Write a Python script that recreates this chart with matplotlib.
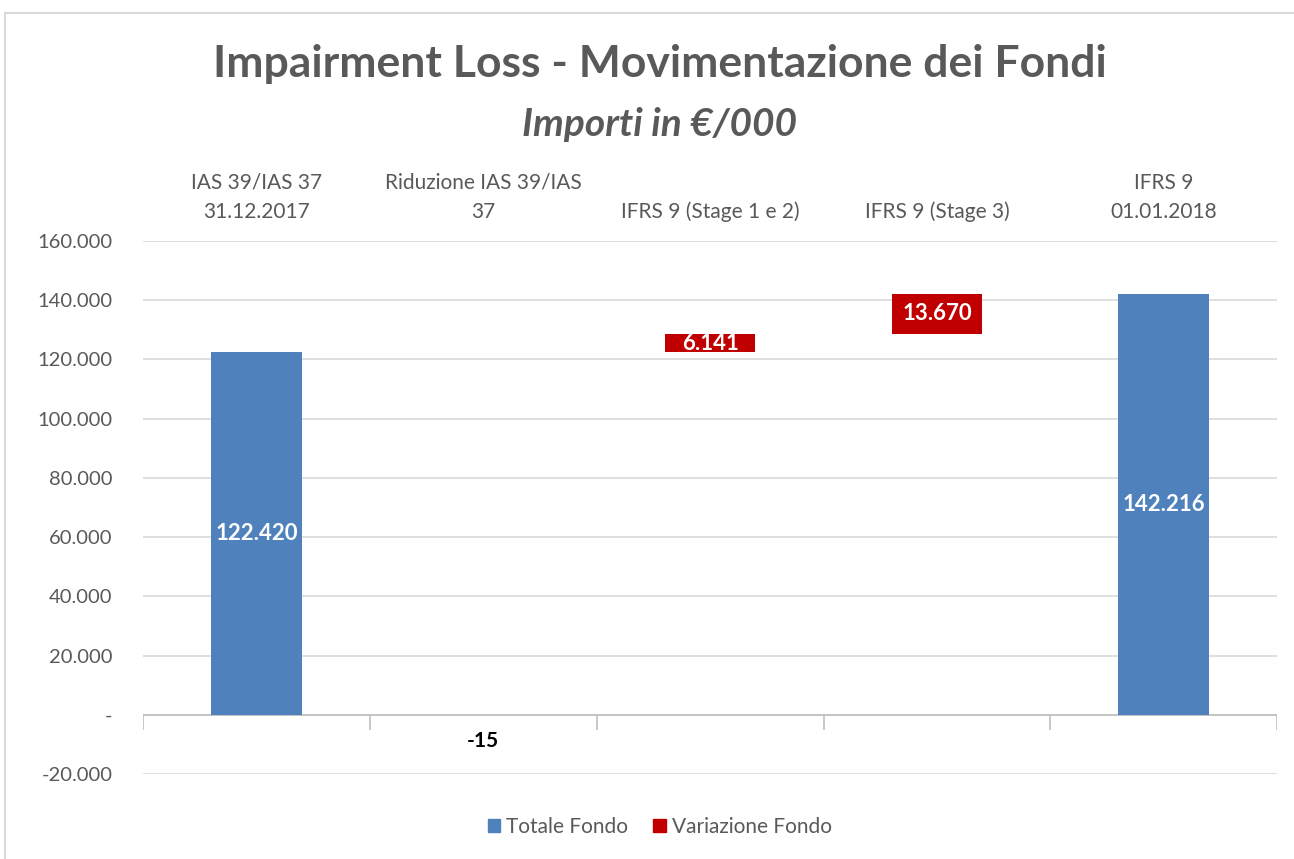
import numpy as np
import matplotlib.pyplot as plt
from matplotlib.patches import Rectangle, Patch
from matplotlib.ticker import FuncFormatter

plt.rcParams['font.family'] = ['Lato', 'DejaVu Sans']

# dati
categorie = ["IAS 39/IAS 37\n31.12.2017", "Riduzione IAS 39/IAS\n37",
             "IFRS 9 (Stage 1 e 2)", "IFRS 9 (Stage 3)", "IFRS 9\n01.01.2018"]
valori = [122420, -15, 6141, 13670, 142216]
totale = [True, False, False, False, True]
etichette = ["122.420", "-15", "6.141", "13.670", "142.216"]

BLU = "#4F81BD"
ROSSO = "#C00000"
GRIGIO = "#595959"

fig = plt.figure(figsize=(12.94, 8.59), dpi=100)
ax = fig.add_axes([0.1105, 0.099, 0.8765, 0.6205])

# cornice esterna
fig.patches.append(Rectangle((0.004, -0.05), 1.1, 1.035, transform=fig.transFigure,
                             fill=False, edgecolor="#D9D9D9", lw=1.5))

x = np.arange(len(valori))
cum = 0
for i, v in enumerate(valori):
    if totale[i]:
        bottom, h, col = 0, v, BLU
        cum = v
    else:
        bottom = cum + min(v, 0)
        h = abs(v)
        col = ROSSO
        cum += v
    ax.bar(x[i], h, bottom=bottom, width=0.4, color=col, zorder=3)
    if valori[i] < 0:
        ax.text(x[i], -8800, etichette[i], ha="center", va="center",
                fontsize=15, fontweight="bold", color="black")
    else:
        ax.text(x[i], bottom + h / 2, etichette[i], ha="center", va="center",
                fontsize=16, fontweight="bold", color="white", zorder=4)

ax.set_xlim(-0.5, len(valori) - 0.5)
ax.set_ylim(-20000, 160000)
ax.set_yticks(np.arange(-20000, 160001, 20000))
ax.yaxis.set_major_formatter(FuncFormatter(
    lambda v, p: "-" if v == 0 else f"{v:,.0f}".replace(",", ".")))
ax.grid(axis="y", color="#D9D9D9", lw=1.2, zorder=0)
ax.axhline(0, color="#BFBFBF", lw=1.2, zorder=2)
ax.vlines(np.arange(len(valori) + 1) - 0.5, -5000, 0, color="#BFBFBF", lw=1.2, zorder=2)

ax.set_xticks(x)
ax.set_xticklabels(categorie, linespacing=1.55)
ax.xaxis.tick_top()
ax.tick_params(axis="x", length=0, pad=14, labelsize=15, labelcolor=GRIGIO)
ax.tick_params(axis="y", length=0, pad=22, labelsize=14.5, labelcolor=GRIGIO)
for s in ax.spines.values():
    s.set_visible(False)

fig.text(0.51, 0.926, "Impairment Loss - Movimentazione dei Fondi", ha="center",
         va="center", fontsize=32, fontweight="bold", color=GRIGIO)
fig.text(0.51, 0.855, "Importi in €/000", ha="center", va="center",
         fontsize=28, fontweight="bold", fontstyle="italic", color=GRIGIO)

handles = [Patch(color=BLU, label="Totale Fondo"), Patch(color=ROSSO, label="Variazione Fondo")]
fig.legend(handles=handles, loc="center", bbox_to_anchor=(0.51, 0.037), ncol=2,
           frameon=False, fontsize=15, labelcolor=GRIGIO, handlelength=0.6,
           handleheight=0.6, handletextpad=0.3, columnspacing=1.2)

fig.savefig("out.png", dpi=100)
